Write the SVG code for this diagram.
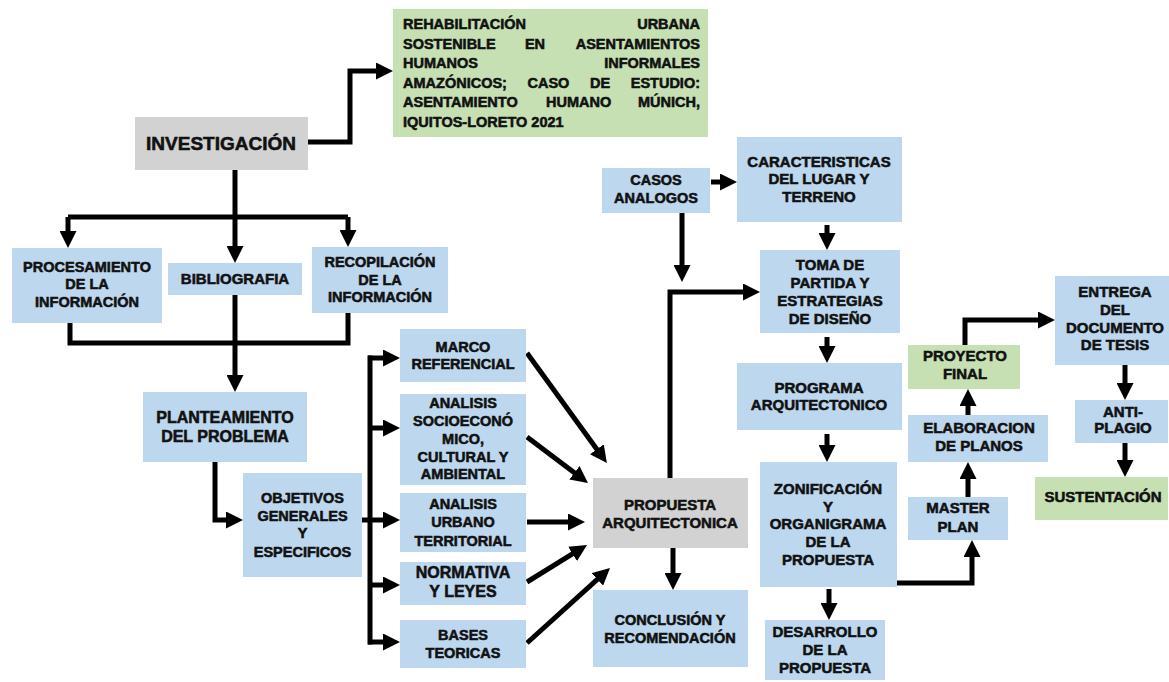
<svg xmlns="http://www.w3.org/2000/svg" width="1169" height="682" viewBox="0 0 1169 682">
<style>
.b{fill:#bdd7ee}
.g{fill:#d2d2d2}
.gr{fill:#c6e0b4}
text{font-family:"Liberation Sans",Arial,sans-serif;font-weight:bold;fill:#111;stroke:#111;stroke-width:0.55;font-size:15px;text-anchor:middle}
.s{font-size:14.5px}
.t{font-size:14.5px;text-anchor:start}
.c{fill:none;stroke:#000;stroke-width:5;stroke-linejoin:miter}
.a{marker-end:url(#ah)}
</style>
<defs>
<marker id="ah" markerUnits="userSpaceOnUse" viewBox="0 0 17 17" markerWidth="17" markerHeight="17" refX="7" refY="8.5" orient="auto"><path d="M0,0 L17,8.5 L0,17 z" fill="#000"/></marker>
</defs>
<rect width="1169" height="682" fill="#fff"/>

<g id="connectors">
<path class="c a" d="M308,142 H350 V71 H383"/>
<path class="c" d="M235,170 V217"/>
<path class="c a" d="M68,217 V238"/>
<path class="c" d="M68,217 H348"/>
<path class="c a" d="M348,217 V237"/>
<path class="c a" d="M235,217 V253"/>
<path class="c" d="M70,323 V343 H348 V313"/>
<path class="c a" d="M235,295 V382"/>
<path class="c a" d="M215,462 V520 H233"/>
<path class="c" d="M370,355.5 V644.5"/>
<path class="c a" d="M368,358 H390"/>
<path class="c a" d="M370,428 H390"/>
<path class="c a" d="M362,520 H390"/>
<path class="c a" d="M370,585 H390"/>
<path class="c a" d="M368,642 H390"/>
<path class="c a" d="M527,353 L601,455"/>
<path class="c a" d="M527,437 L580,477"/>
<path class="c a" d="M527,522 L575,522"/>
<path class="c a" d="M527,582 L578.5,550.2"/>
<path class="c a" d="M527,643 L602.6,574.7"/>
<path class="c a" d="M673,548 V580"/>
<path class="c a" d="M670,478 V292 H750"/>
<path class="c a" d="M711,182 H727"/>
<path class="c a" d="M682,213 V272"/>
<path class="c a" d="M827,225 V240"/>
<path class="c a" d="M827,337 V353"/>
<path class="c a" d="M827,434 V452"/>
<path class="c a" d="M829,589 V610"/>
<path class="c a" d="M897,583 H972 V550"/>
<path class="c a" d="M968,497 V472"/>
<path class="c a" d="M968,415 V399"/>
<path class="c a" d="M965,345 V320 H1045"/>
<path class="c a" d="M1125,365 V390"/>
<path class="c a" d="M1125,443 V467"/>
</g>

<g id="titulo">
<rect class="gr" x="393" y="9" width="315" height="128"/>
<text class="t" y="29"><tspan x="403">REHABILITACIÓN</tspan><tspan x="700" text-anchor="end">URBANA</tspan></text>
<text class="t" y="49"><tspan x="403">SOSTENIBLE</tspan><tspan x="535" text-anchor="middle">EN</tspan><tspan x="700" text-anchor="end">ASENTAMIENTOS</tspan></text>
<text class="t" y="68"><tspan x="403">HUMANOS</tspan><tspan x="700" text-anchor="end">INFORMALES</tspan></text>
<text class="t" y="88"><tspan x="403">AMAZÓNICOS;</tspan><tspan x="527.5">CASO</tspan><tspan x="590">DE</tspan><tspan x="700" text-anchor="end">ESTUDIO:</tspan></text>
<text class="t" y="107"><tspan x="403">ASENTAMIENTO</tspan><tspan x="546">HUMANO</tspan><tspan x="700" text-anchor="end">MÚNICH,</tspan></text>
<text class="t" y="127"><tspan x="403">IQUITOS-LORETO 2021</tspan></text>
</g>

<g id="investigacion">
<rect class="g" x="135" y="117" width="173" height="53"/>
<text x="221" y="150" style="font-size:19px">INVESTIGACIÓN</text>
</g>

<g id="procesamiento">
<rect class="b" x="12" y="248" width="150" height="75"/>
<text class="s" x="87" y="272">PROCESAMIENTO</text>
<text class="s" x="87" y="289">DE LA</text>
<text class="s" x="87" y="307">INFORMACIÓN</text>
</g>

<g id="bibliografia">
<rect class="b" x="168" y="263" width="134" height="32"/>
<text x="235" y="284">BIBLIOGRAFIA</text>
</g>

<g id="recopilacion">
<rect class="b" x="312" y="247" width="136" height="66"/>
<text class="s" x="380" y="267">RECOPILACIÓN</text>
<text class="s" x="380" y="285">DE LA</text>
<text class="s" x="380" y="302">INFORMACIÓN</text>
</g>

<g id="planteamiento">
<rect class="b" x="143" y="392" width="164" height="70"/>
<text x="225" y="423" style="font-size:16px">PLANTEAMIENTO</text>
<text x="225" y="442" style="font-size:16px">DEL PROBLEMA</text>
</g>

<g id="objetivos">
<rect class="b" x="243" y="473" width="119" height="104"/>
<text class="s" x="302.5" y="503">OBJETIVOS</text>
<text class="s" x="302.5" y="521">GENERALES</text>
<text class="s" x="302.5" y="538">Y</text>
<text class="s" x="302.5" y="557">ESPECIFICOS</text>
</g>

<g id="marco">
<rect class="b" x="400" y="329" width="126" height="53"/>
<text class="s" x="463" y="352">MARCO</text>
<text class="s" x="463" y="369">REFERENCIAL</text>
</g>

<g id="socioeconomico">
<rect class="b" x="400" y="394" width="126" height="91"/>
<text class="s" x="463" y="408">ANALISIS</text>
<text class="s" x="463" y="426">SOCIOECONÓ</text>
<text class="s" x="463" y="444">MICO,</text>
<text class="s" x="463" y="462">CULTURAL Y</text>
<text class="s" x="463" y="479">AMBIENTAL</text>
</g>

<g id="urbano">
<rect class="b" x="400" y="493" width="126" height="59"/>
<text class="s" x="463" y="509">ANALISIS</text>
<text class="s" x="463" y="527">URBANO</text>
<text class="s" x="463" y="546">TERRITORIAL</text>
</g>

<g id="normativa">
<rect class="b" x="400" y="562" width="126" height="43"/>
<text x="463" y="578" style="font-size:16px">NORMATIVA</text>
<text x="463" y="597" style="font-size:16px">Y LEYES</text>
</g>

<g id="bases">
<rect class="b" x="400" y="620" width="126" height="48"/>
<text class="s" x="463" y="640">BASES</text>
<text class="s" x="463" y="658">TEORICAS</text>
</g>

<g id="propuesta">
<rect class="g" x="593" y="478" width="155" height="70"/>
<text x="670" y="510">PROPUESTA</text>
<text x="670" y="528">ARQUITECTONICA</text>
</g>

<g id="conclusion">
<rect class="b" x="593" y="590" width="155" height="77"/>
<text class="s" x="670" y="625">CONCLUSIÓN Y</text>
<text class="s" x="670" y="643">RECOMENDACIÓN</text>
</g>

<g id="casos">
<rect class="b" x="602" y="168" width="108" height="45"/>
<text class="s" x="656" y="185">CASOS</text>
<text class="s" x="656" y="203">ANALOGOS</text>
</g>

<g id="caracteristicas">
<rect class="b" x="737" y="137" width="165" height="85"/>
<text x="819" y="167">CARACTERISTICAS</text>
<text x="819" y="184">DEL LUGAR Y</text>
<text x="819" y="202">TERRENO</text>
</g>

<g id="toma">
<rect class="b" x="760" y="250" width="140" height="83"/>
<text x="830" y="270">TOMA DE</text>
<text x="830" y="288">PARTIDA Y</text>
<text x="830" y="306">ESTRATEGIAS</text>
<text x="830" y="324">DE DISEÑO</text>
</g>

<g id="programa">
<rect class="b" x="737" y="363" width="165" height="67"/>
<text x="819" y="393">PROGRAMA</text>
<text x="819" y="410">ARQUITECTONICO</text>
</g>

<g id="zonificacion">
<rect class="b" x="760" y="462" width="137" height="125"/>
<text x="828" y="494">ZONIFICACIÓN</text>
<text x="828" y="512">Y</text>
<text x="828" y="529">ORGANIGRAMA</text>
<text x="828" y="547">DE LA</text>
<text x="828" y="565">PROPUESTA</text>
</g>

<g id="desarrollo">
<rect class="b" x="765" y="620" width="120" height="60"/>
<text x="825" y="637">DESARROLLO</text>
<text x="825" y="655">DE LA</text>
<text x="825" y="673">PROPUESTA</text>
</g>

<g id="master">
<rect class="b" x="908" y="497" width="100" height="43"/>
<text x="958" y="513">MASTER</text>
<text x="958" y="532">PLAN</text>
</g>

<g id="elaboracion">
<rect class="b" x="908" y="415" width="140" height="47"/>
<text x="979" y="433">ELABORACION</text>
<text x="979" y="451">DE PLANOS</text>
</g>

<g id="proyecto">
<rect class="gr" x="908" y="345" width="112" height="44"/>
<text x="965" y="361">PROYECTO</text>
<text x="965" y="379">FINAL</text>
</g>

<g id="entrega">
<rect class="b" x="1055" y="276" width="114" height="89"/>
<text x="1115" y="297">ENTREGA</text>
<text x="1115" y="315">DEL</text>
<text x="1115" y="333">DOCUMENTO</text>
<text x="1115" y="350">DE TESIS</text>
</g>

<g id="antiplagio">
<rect class="b" x="1075" y="400" width="93" height="43"/>
<text x="1123" y="417">ANTI-</text>
<text x="1123" y="433">PLAGIO</text>
</g>

<g id="sustentacion">
<rect class="gr" x="1035" y="477" width="133" height="43"/>
<text x="1103" y="502">SUSTENTACIÓN</text>
</g>
</svg>
